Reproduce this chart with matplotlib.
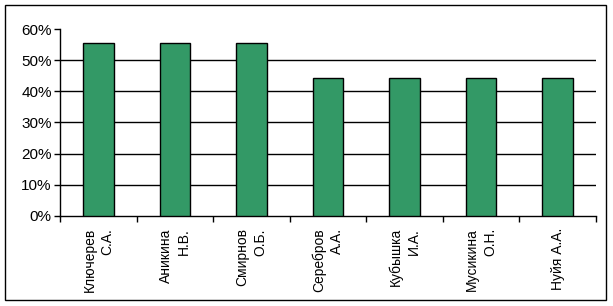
import numpy as np
import matplotlib
matplotlib.use("Agg")
import matplotlib.pyplot as plt
from matplotlib.patches import Rectangle
from matplotlib.ticker import FixedLocator, PercentFormatter

# Data
names = ["Ключерев\nС.А.", "Аникина\nН.В.", "Смирнов\nО.Б.", "Серебров\nА.А.",
         "Кубышка\nИ.А.", "Мусикина\nО.Н.", "Нуйя А.А."]
shares = [55.6, 55.6, 55.6, 44.4, 44.4, 44.4, 44.4]
y_ticks = [0, 10, 20, 30, 40, 50, 60]

plt.rcParams['font.family'] = ['Liberation Sans', 'DejaVu Sans']

fig = plt.figure(figsize=(6.13, 3.06), dpi=100)
ax = fig.add_axes([0.098, 0.295, 0.874, 0.61])

x = np.arange(len(names))
ax.bar(x, shares, width=0.4, color="#339966", edgecolor="black", linewidth=1, zorder=3)

ax.set_xlim(-0.5, len(names) - 0.5)
ax.set_ylim(0, 60)
ax.set_yticks(y_ticks)
ax.yaxis.set_major_formatter(PercentFormatter(decimals=0))

# horizontal grid, none at the top
for t in y_ticks[1:-1]:
    ax.axhline(t, color="black", linewidth=1, zorder=1)

# category labels centred, tick marks between categories
ax.set_xticks(x)
ax.set_xticklabels(names, rotation=90, ha="center", va="top",
                   multialignment="right", fontsize=10, linespacing=1.35)
ax.tick_params(axis="x", which="major", length=0, pad=9)
ax.xaxis.set_minor_locator(FixedLocator(np.arange(-0.5, len(names), 1.0)))
ax.tick_params(axis="x", which="minor", length=4, width=1, direction="out")
ax.tick_params(axis="y", length=4, width=1, direction="out", labelsize=11, pad=2)

for side in ["top", "right"]:
    ax.spines[side].set_visible(False)
for side in ["left", "bottom"]:
    ax.spines[side].set_linewidth(1)

# outer chart border
fig.patches.append(Rectangle((5 / 613, 6 / 306), 601 / 613, 295 / 306,
                             transform=fig.transFigure, fill=False,
                             edgecolor="black", linewidth=1))

fig.savefig("out.png", dpi=100)
